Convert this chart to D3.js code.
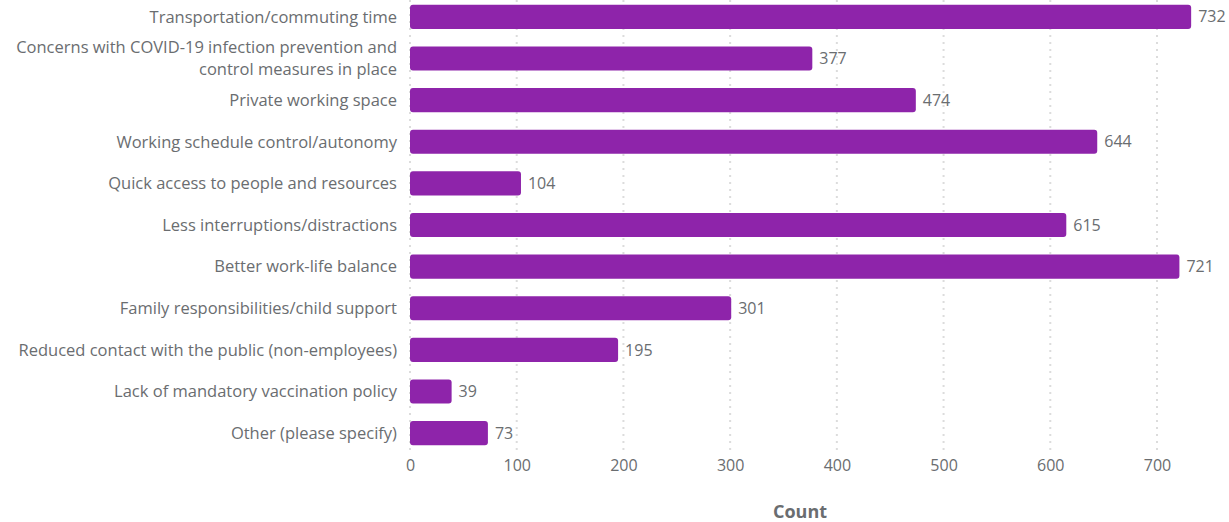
<!DOCTYPE html>
<html>
<head>
<meta charset="utf-8">
<script src="https://cdn.jsdelivr.net/npm/d3@7"></script>
<style>
  html, body { margin: 0; padding: 0; background: #fff; }
  svg { display: block; }
  text { font-family: "Open Sans", "Noto Sans", sans-serif; }
</style>
</head>
<body>
<svg id="chart" width="1229" height="522"></svg>
<script>
// Reasons for preferring remote work — response counts
const categories = [
  "Transportation/commuting time",
  "Concerns with COVID-19 infection prevention and\ncontrol measures in place",
  "Private working space",
  "Working schedule control/autonomy",
  "Quick access to people and resources",
  "Less interruptions/distractions",
  "Better work-life balance",
  "Family responsibilities/child support",
  "Reduced contact with the public (non-employees)",
  "Lack of mandatory vaccination policy",
  "Other (please specify)"
];
const counts = [732, 377, 474, 644, 104, 615, 721, 301, 195, 39, 73];
const xTicks = [0, 100, 200, 300, 400, 500, 600, 700];
const axisTitle = "Count";

const svg = d3.select("#chart");
const plotLeft = 410, plotRight = 1157, plotTop = -4, plotBottom = 454;

const x = d3.scaleLinear().domain([0, 700]).range([plotLeft, plotRight]);
const y = d3.scaleBand().domain(categories).range([plotTop, plotBottom]).paddingInner(0.42).paddingOuter(0.21);

const textColor = "#6a6d70";
const labelSize = 16.5;

// dotted vertical gridlines
svg.append("g")
  .selectAll("line")
  .data(xTicks)
  .join("line")
  .attr("x1", d => x(d)).attr("x2", d => x(d))
  .attr("y1", 0).attr("y2", 455)
  .attr("stroke", "#dcdcdc")
  .attr("stroke-width", 2)
  .attr("stroke-dasharray", "2,5");

// x axis tick labels
const xAxis = d3.axisBottom(x).tickValues(xTicks).tickSize(0).tickPadding(0);
const gx = svg.append("g").attr("transform", "translate(0,458)").call(xAxis);
gx.select(".domain").remove();
gx.selectAll("text")
  .attr("fill", textColor)
  .attr("font-size", 16)
  .attr("dy", "0.8em")
  .style("font-family", "'Open Sans', 'Noto Sans', sans-serif");

// bars
svg.append("g")
  .selectAll("rect")
  .data(categories)
  .join("rect")
  .attr("x", x(0))
  .attr("y", d => y(d))
  .attr("width", (d, i) => x(counts[i]) - x(0))
  .attr("height", y.bandwidth())
  .attr("rx", 3)
  .attr("fill", "#8e24aa");

// value labels
svg.append("g")
  .selectAll("text")
  .data(categories)
  .join("text")
  .attr("x", (d, i) => x(counts[i]) + 7)
  .attr("y", d => y(d) + y.bandwidth() / 2)
  .attr("dy", "0.35em")
  .attr("fill", textColor)
  .attr("font-size", 16)
  .text((d, i) => counts[i]);

// category labels; wrapped labels get one text element per line
const lineGap = 22;
const labelLines = categories.flatMap(c => {
  const parts = c.split("\n");
  return parts.map((p, k) => ({ cat: c, text: p, offset: (k - (parts.length - 1) / 2) * lineGap }));
});
svg.append("g")
  .selectAll("text")
  .data(labelLines)
  .join("text")
  .attr("x", 397)
  .attr("y", d => y(d.cat) + y.bandwidth() / 2 + d.offset)
  .attr("dy", "0.35em")
  .attr("text-anchor", "end")
  .attr("fill", textColor)
  .attr("font-size", labelSize)
  .text(d => d.text);

// axis title
svg.append("text")
  .attr("x", 800)
  .attr("y", 512)
  .attr("dy", "0.35em")
  .attr("text-anchor", "middle")
  .attr("fill", textColor)
  .attr("font-size", 18)
  .attr("font-weight", "bold")
  .text(axisTitle);
</script>
</body>
</html>
